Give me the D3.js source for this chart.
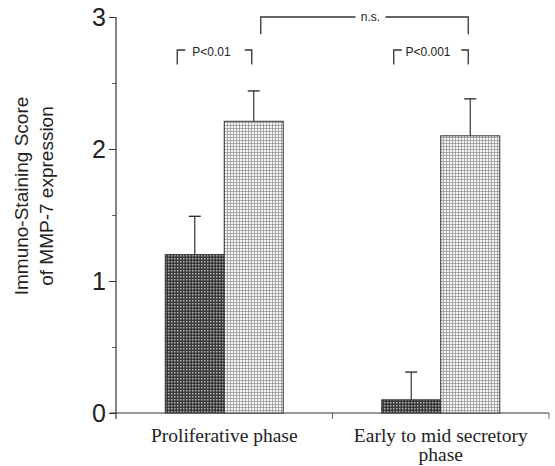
<!DOCTYPE html>
<html>
<head>
<meta charset="utf-8">
<style>
  body { margin: 0; background: #fff; }
  svg { display: block; }
</style>
</head>
<body>
<svg class="svg" width="555" height="466"></svg>
<script src="https://d3js.org/d3.v7.min.js"></script>
<script>
  // data
  var phases = ["Proliferative phase", "Early to mid secretory phase"];
  var phaseLines = [["Proliferative phase"], ["Early to mid secretory", "phase"]];
  var groups = ["dark", "light"];
  var darkValues = [1.2, 0.1];
  var darkErrors = [0.29, 0.21];
  var lightValues = [2.21, 2.1];
  var lightErrors = [0.23, 0.28];
  var yTicks = [0, 1, 2, 3];
  var pLabels = ["P<0.01", "P<0.001"];
  var nsLabel = "n.s.";

  var svg = d3.select("svg");
  var margin = { top: 17, right: 6, bottom: 53, left: 116 };
  var width = +svg.attr("width") - margin.left - margin.right;
  var height = +svg.attr("height") - margin.top - margin.bottom;

  var defs = svg.append("defs");
  // dark checked fill
  var pd = defs.append("pattern").attr("id", "darkfill")
    .attr("patternUnits", "userSpaceOnUse").attr("width", 3).attr("height", 3);
  pd.append("rect").attr("width", 3).attr("height", 3).attr("fill", "#3a3a3a");
  pd.append("rect").attr("x", 1).attr("y", 1).attr("width", 1.5).attr("height", 1.5).attr("fill", "#b4b4b4");
  // light checked fill
  var pl = defs.append("pattern").attr("id", "lightfill")
    .attr("patternUnits", "userSpaceOnUse").attr("width", 3).attr("height", 3);
  pl.append("rect").attr("width", 3).attr("height", 3).attr("fill", "#f6f6f6");
  pl.append("rect").attr("width", 3).attr("height", 0.7).attr("fill", "#8e8e8e");
  pl.append("rect").attr("width", 0.7).attr("height", 3).attr("fill", "#8e8e8e");

  var g = svg.append("g").attr("transform", "translate(" + margin.left + "," + margin.top + ")");

  var x = d3.scaleBand().domain(phases).range([0, width]);
  var xs = d3.scaleBand().domain(groups).range([0, 118]);
  var y = d3.scaleLinear().domain([0, 3]).range([height, 0]);

  function bx(i, grp) {
    return x(phases[i]) + x.bandwidth() / 2 - 59 + xs(grp);
  }

  var sans = "Liberation Sans, Arial, sans-serif";

  // y axis
  var yAxis = g.append("g").call(d3.axisLeft(y).tickValues(yTicks).tickFormat(d3.format("d")).tickSize(7).tickPadding(3));
  yAxis.select(".domain").remove();
  yAxis.selectAll("line").attr("stroke", "#333");
  yAxis.selectAll("text").attr("font-family", sans).attr("font-size", 25).attr("fill", "#222").attr("dy", "0.35em");
  var minor = g.append("g").call(d3.axisLeft(y).tickValues([0.5, 1.5, 2.5]).tickFormat("").tickSize(4));
  minor.select(".domain").remove();
  minor.selectAll("line").attr("stroke", "#666");
  g.append("line").attr("x1", 0).attr("x2", 0).attr("y1", y(3)).attr("y2", height + 6)
    .attr("stroke", "#333").attr("stroke-width", 1.2);

  // x axis
  var xAxis = g.append("g").attr("transform", "translate(0," + height + ")");
  xAxis.append("line").attr("x1", -6).attr("x2", width).attr("stroke", "#333").attr("stroke-width", 1.2);
  xAxis.selectAll(".xt").data(phases).enter().append("line")
    .attr("x1", function(d) { return x(d) + x.bandwidth(); })
    .attr("x2", function(d) { return x(d) + x.bandwidth(); })
    .attr("y1", 0).attr("y2", 6).attr("stroke", "#666");
  phaseLines.forEach(function(lines, i) {
    var t = xAxis.append("text")
      .attr("x", x(phases[i]) + x.bandwidth() / 2)
      .attr("y", 29)
      .attr("text-anchor", "middle")
      .attr("font-family", "Liberation Serif, Times New Roman, serif")
      .attr("font-size", 19.5).attr("fill", "#222");
    lines.forEach(function(l, j) {
      t.append("tspan").attr("x", x(phases[i]) + x.bandwidth() / 2).attr("dy", j ? 19 : 0).text(l);
    });
  });

  // y title
  var yt = svg.append("text")
    .attr("transform", "translate(28,196) rotate(-90)")
    .attr("text-anchor", "middle")
    .attr("font-family", sans)
    .attr("font-size", 19).attr("fill", "#222");
  yt.append("tspan").attr("x", 0).attr("y", 0).text("Immuno-Staining Score");
  yt.append("tspan").attr("x", 0).attr("y", 25).text("of MMP-7 expression");

  // bars
  var bars = [];
  phases.forEach(function(p, i) {
    bars.push({ i: i, grp: "dark", v: darkValues[i], e: darkErrors[i] });
    bars.push({ i: i, grp: "light", v: lightValues[i], e: lightErrors[i] });
  });

  // error bars (drawn behind bars)
  var err = g.selectAll(".err").data(bars).enter().append("g").attr("class", "err");
  err.append("line")
    .attr("x1", function(d) { return bx(d.i, d.grp) + xs.bandwidth() / 2; })
    .attr("x2", function(d) { return bx(d.i, d.grp) + xs.bandwidth() / 2; })
    .attr("y1", function(d) { return y(d.v); })
    .attr("y2", function(d) { return y(d.v + d.e); })
    .attr("stroke", "#333").attr("stroke-width", 1.2);
  err.append("line")
    .attr("x1", function(d) { return bx(d.i, d.grp) + xs.bandwidth() / 2 - 6; })
    .attr("x2", function(d) { return bx(d.i, d.grp) + xs.bandwidth() / 2 + 6; })
    .attr("y1", function(d) { return y(d.v + d.e); })
    .attr("y2", function(d) { return y(d.v + d.e); })
    .attr("stroke", "#333").attr("stroke-width", 1.4);

  g.selectAll(".bar").data(bars).enter().append("rect")
    .attr("class", "bar")
    .attr("x", function(d) { return bx(d.i, d.grp); })
    .attr("y", function(d) { return y(d.v); })
    .attr("width", xs.bandwidth())
    .attr("height", function(d) { return height - y(d.v); })
    .attr("fill", function(d) { return d.grp === "dark" ? "url(#darkfill)" : "url(#lightfill)"; })
    .attr("stroke", "#333").attr("stroke-width", 1);

  // significance brackets
  function pBracket(i, label) {
    var x0 = bx(i, "dark") + 12, x1 = bx(i, "light") + xs.bandwidth() / 2 - 2;
    var yTop = y(2.75), yBot = y(2.64);
    var br = g.append("g").attr("fill", "none").attr("stroke", "#333").attr("stroke-width", 1.3);
    br.append("path").attr("d", "M" + x0 + "," + yBot + "V" + yTop + "H" + (x0 + 8));
    br.append("path").attr("d", "M" + (x1 - 7) + "," + yTop + "H" + x1 + "V" + yBot);
    g.append("text").attr("x", (x0 + x1) / 2 - 3).attr("y", yTop + 6)
      .attr("text-anchor", "middle").attr("font-family", sans).attr("font-size", 12).attr("fill", "#222")
      .text(label);
  }
  pBracket(0, pLabels[0]);
  pBracket(1, pLabels[1]);

  var nx0 = bx(0, "light") + xs.bandwidth() / 2 + 7, nx1 = bx(1, "light") + xs.bandwidth() / 2 - 2;
  var ny = y(3.0), nyb = y(2.87);
  var nmid = (nx0 + nx1) / 2 + 6;
  var nsg = g.append("g").attr("fill", "none").attr("stroke", "#333").attr("stroke-width", 1.3);
  nsg.append("path").attr("d", "M" + nx0 + "," + nyb + "V" + ny + "H" + (nmid - 15));
  nsg.append("path").attr("d", "M" + (nmid + 15) + "," + ny + "H" + nx1 + "V" + nyb);
  g.append("text").attr("x", nmid).attr("y", ny + 4)
    .attr("text-anchor", "middle").attr("font-family", sans).attr("font-size", 12).attr("fill", "#222")
    .text(nsLabel);
</script>
</body>
</html>
